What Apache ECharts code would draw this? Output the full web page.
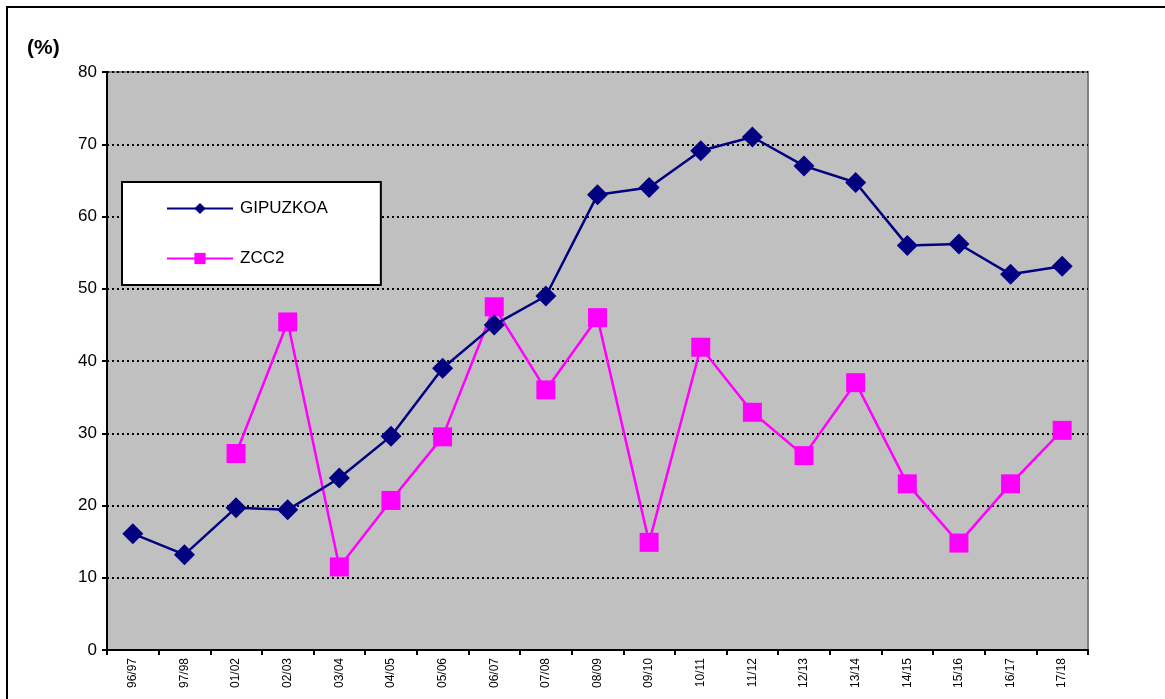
<!DOCTYPE html>
<html>
<head>
<meta charset="utf-8">
<script src="https://cdn.jsdelivr.net/npm/echarts@6/dist/echarts.min.js"></script>
<style>
html,body{margin:0;padding:0;background:#fff;}
#chart{width:1165px;height:699px;}
</style>
</head>
<body>
<div id="chart"></div>
<script>
const categories = ["96/97","97/98","01/02","02/03","03/04","04/05","05/06","06/07","07/08","08/09","09/10","10/11","11/12","12/13","13/14","14/15","15/16","16/17","17/18"];
const gipuzkoa = [16.1,13.2,19.7,19.4,23.8,29.6,39.0,45.0,49.0,63.0,64.0,69.1,71.0,67.0,64.7,56.0,56.2,52.0,53.1];
const zcc2 = [null,null,27.2,45.4,11.5,20.7,29.5,47.5,36.0,46.0,14.9,41.9,32.9,26.9,37.0,23.0,14.8,23.0,30.4];
const yTicks = { min: 0, max: 80, interval: 10 };

const chart = echarts.init(document.getElementById('chart'), null, {renderer: 'canvas'});
chart.setOption({
  animation: false,
  backgroundColor: '#ffffff',
  textStyle: { fontFamily: 'Liberation Sans, Arial, sans-serif' },
  graphic: [
    { type: 'rect', shape: { x: 7, y: 7, width: 1300, height: 900 }, style: { fill: 'none', stroke: '#000', lineWidth: 2 }, z: 100 },
    { type: 'text', left: 27, top: 38, style: { text: '(%)', font: 'bold 21px "Liberation Sans", Arial, sans-serif', fill: '#000' } }
  ],
  grid: {
    left: 107, top: 72, right: 77, bottom: 49,
    show: true, backgroundColor: '#C0C0C0', borderColor: '#808080', borderWidth: 2
  },
  legend: {
    orient: 'vertical',
    left: 122, top: 182,
    padding: [18, 53, 18, 44],
    itemGap: 33,
    itemWidth: 66, itemHeight: 14,
    backgroundColor: '#ffffff',
    borderColor: '#000', borderWidth: 2,
    textStyle: { fontSize: 17, color: '#000', fontFamily: 'Liberation Sans, Arial, sans-serif', padding: [0,0,0,2] },
    data: ['GIPUZKOA', 'ZCC2']
  },
  xAxis: {
    type: 'category',
    data: categories,
    boundaryGap: true,
    axisLine: { lineStyle: { color: '#000', width: 2 } },
    axisTick: { show: true, inside: false, length: 5, alignWithLabel: false, lineStyle: { color: '#000', width: 2 } },
    axisLabel: { rotate: 90, fontSize: 12, color: '#000', margin: 8, interval: 0 },
    splitLine: { show: false }
  },
  yAxis: {
    type: 'value',
    min: yTicks.min, max: yTicks.max, interval: yTicks.interval,
    axisLine: { show: true, lineStyle: { color: '#000', width: 2 } },
    axisTick: { show: true, length: 5, lineStyle: { color: '#000', width: 2 } },
    axisLabel: { fontSize: 17, color: '#000', margin: 10 },
    splitLine: { show: true, lineStyle: { color: '#000', type: [2, 3], width: 2 } }
  },
  series: [
    {
      name: 'GIPUZKOA', type: 'line', data: gipuzkoa,
      symbol: 'diamond', symbolSize: 21,
      lineStyle: { color: '#000080', width: 2.5 },
      itemStyle: { color: '#000080' }, z: 3
    },
    {
      name: 'ZCC2', type: 'line', data: zcc2,
      symbol: 'rect', symbolSize: 19,
      lineStyle: { color: '#FF00FF', width: 2.5 },
      itemStyle: { color: '#FF00FF' }, z: 2
    }
  ]
});
</script>
</body>
</html>
